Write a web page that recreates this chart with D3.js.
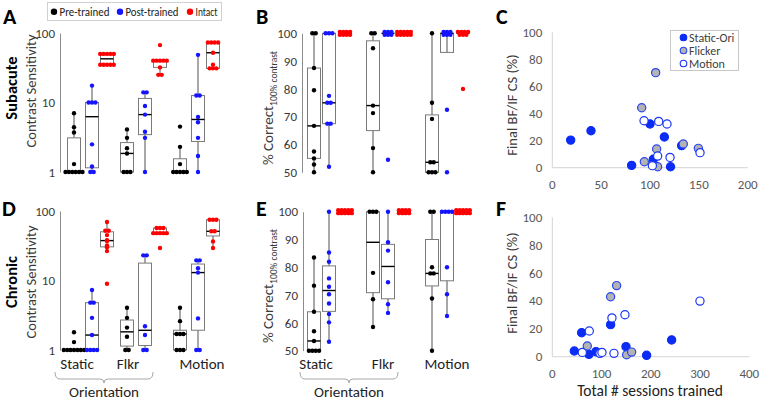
<!DOCTYPE html>
<html><head><meta charset="utf-8">
<script src="https://cdn.jsdelivr.net/npm/d3@7"></script>
<style>
body{margin:0;background:#fff}
text{font-family:Carlito,Calibri,Lato,"Open Sans",sans-serif}
</style>
</head><body>
<svg id="chart" width="760" height="400"></svg>
<script>
// ---------- categories ----------
const tasks = ["Static", "Flkr", "Motion"];
const conditions = ["Pre-trained", "Post-trained", "Intact"];
const condColors = ["#000000", "#1414ff", "#ff0000"];
const csTicks = [1, 10, 100];
const pctTicks = [50, 60, 70, 80, 90, 100];
const scatterYTicks = [0, 20, 40, 60, 80, 100];
const subacuteXTicks = [0, 50, 100, 150, 200];
const chronicXTicks = [0, 100, 200, 300, 400];
const scatterSeries = ["Static-Ori", "Flicker", "Motion"];

// ---------- Panel A: subacute contrast sensitivity (per task) ----------
const subacuteCSPre = [
  [7, 4.4, 3.7, 1.3, 1, 1, 1, 1, 1, 1],
  [4.1, 3.1, 2.2, 1.85, 1, 1, 1],
  [4.5, 2.3, 1.3, 1, 1, 1, 1, 1]
];
const subacuteCSPost = [
  [17.5, 10, 10, 10, 2.5, 1.2, 1, 1],
  [14, 14, 8.9, 6.7, 3.8, 3.1, 1],
  [48.5, 12.6, 12.6, 6.2, 5.2, 3.1, 1.7, 1]
];
const subacuteCSIntact = [
  [50, 50, 50, 50, 50, 35, 35, 35, 35, 35],
  [67, 40, 40, 40, 40, 40, 32, 25, 25],
  [73, 73, 73, 73, 52, 35, 31, 31, 31]
];

// ---------- Panel B: subacute % correct at 100% contrast ----------
const subacutePctPre = [
  [100, 100, 87.5, 79.5, 66.7, 57.5, 55, 52.8, 50],
  [100, 100, 94.6, 74, 71.3, 58.7, 50],
  [100, 75, 69.2, 53.6, 53.6, 50, 50, 50]
];
const subacutePctPost = [
  [100, 100, 100, 77.5, 75, 75, 67.5, 67.5, 52],
  [100, 100, 100, 100, 100, 100, 54.5],
  [100, 100, 100, 100, 100, 100, 72.5, 50]
];
const subacutePctIntact = [
  [100, 100, 100, 100, 100, 100, 100, 100],
  [100, 100, 100, 100, 100, 100, 100, 100, 100, 100],
  [100, 100, 100, 100, 100, 100, 100, 80]
];

// ---------- Panel C: subacute final BF/IF CS vs sessions ----------
const subacuteStaticX = [18.8, 39.6, 100, 114.7, 81.2, 103.4, 121, 132.4];
const subacuteStaticY = [20.4, 27.3, 32.3, 22.7, 1.7, 6.2, 0.7, 16.3];
const subacuteFlickerX = [105.8, 91.5, 106.8, 94.2, 134.1, 149.5, 107.8];
const subacuteFlickerY = [70.2, 44.3, 13.8, 4.4, 17.5, 14.3, 0.7];
const subacuteMotionX = [93.9, 108.9, 117.4, 107.8, 120.5, 151.2, 102.4];
const subacuteMotionY = [34.7, 34.2, 32.3, 8.6, 7.6, 11.1, 1.5];

// ---------- Panel D: chronic contrast sensitivity ----------
const chronicCSPre = [
  [1.8, 1.3, 1, 1, 1, 1, 1, 1, 1],
  [4.05, 2.9, 2.1, 1.55, 1, 1],
  [4.05, 2.6, 1.7, 1.7, 1.7, 1, 1, 1]
];
const chronicCSPost = [
  [7.3, 4.8, 4.8, 2.9, 1.64, 1, 1, 1, 1],
  [23, 23, 2.2, 1.64, 1, 1],
  [19.5, 19.5, 15, 13, 2.85, 1, 1]
];
const chronicCSIntact = [
  [69.5, 52, 52, 45, 38, 37, 32, 30, 26.5, 9],
  [57, 57, 57, 48, 48, 48, 48, 48, 29.4],
  [75, 75, 75, 51, 51, 36.5, 29.4]
];

// ---------- Panel E: chronic % correct ----------
const chronicPctPre = [
  [83.5, 73.4, 64, 57, 53.5, 50, 50, 50, 50],
  [100, 100, 100, 78, 68.5, 58.5],
  [100, 100, 80, 77.8, 77.8, 68.8, 50]
];
const chronicPctPost = [
  [100, 85.3, 82, 76, 73, 70.3, 67, 63.2, 60.2, 53.2],
  [100, 89, 86, 74.6, 66.7, 63.6],
  [100, 100, 100, 100, 80, 70.3, 62.5]
];
const chronicPctIntact = [
  [100, 100, 100, 100, 100, 100, 100, 100, 100, 100],
  [100, 100, 100, 100, 100, 100, 100, 100],
  [100, 100, 100, 100, 100, 100, 100, 100, 100, 100]
];

// ---------- Panel F: chronic final BF/IF CS vs sessions ----------
const chronicStaticX = [44.7, 59.6, 74.4, 88.7, 118.4, 149.6, 191.5, 242.3];
const chronicStaticY = [4.1, 17.2, 1.7, 3.6, 23, 7.2, 1, 12];
const chronicFlickerX = [118.4, 130.6, 71, 150.9, 161.1];
const chronicFlickerY = [43, 51, 7.7, 1.4, 3.3];
const chronicMotionX = [60.9, 75.1, 96.8, 100.8, 121.1, 125.2, 147.5, 299.8];
const chronicMotionY = [3.1, 18.4, 2.4, 3.1, 27.8, 2.4, 30.1, 39.9];

// =====================================================================
const svg = d3.select("#chart");
const GRAY_AXIS = "#8c8c8c";
const TXT = "#3a3a3a";

function panelLetter(x, y, s) {
  svg.append("text").attr("x", x).attr("y", y).text(s)
    .attr("font-size", 22).attr("font-weight", "bold").attr("fill", "#000");
}
function rotText(x, y, s, size, weight, color) {
  return svg.append("text").attr("transform", `translate(${x},${y}) rotate(-90)`)
    .attr("text-anchor", "middle").attr("font-size", size)
    .attr("font-weight", weight || "normal").attr("fill", color || TXT).text(s);
}

// ---- generic box + dot panel ----
function boxPanel(opt) {
  const g = svg.append("g");
  const y = opt.y, isLog = opt.log;
  const tf = isLog ? Math.log10 : (v => v);
  const ax = g.append("g").attr("transform", `translate(${opt.axisX},0)`)
    .call(d3.axisLeft(y).tickValues(opt.ticks).tickSize(0).tickPadding(5)
      .tickFormat(d3.format("d")));
  ax.select(".domain").attr("stroke", GRAY_AXIS).attr("stroke-width", 1);
  ax.selectAll("text").attr("font-size", 13).attr("fill", TXT)
    .attr("font-family", "Carlito,Calibri,Lato,sans-serif");

  const groups = [opt.pre, opt.post, opt.intact];
  const boxW = 13, spacing = 3.4, rowGap = 2.9, r = 2.2;
  groups.forEach((grp, ci) => {
    grp.forEach((vals0, ti) => {
      const vals = vals0.slice().sort(d3.ascending);
      const cx = opt.x(tasks[ti]) + opt.offsets[ci];
      const q1 = d3.quantile(vals, 0.25), med = d3.quantile(vals, 0.5), q3 = d3.quantile(vals, 0.75);
      const iqr = tf(q3) - tf(q1);
      const inside = vals.filter(v => tf(v) >= tf(q1) - 1.5 * iqr - 1e-9 && tf(v) <= tf(q3) + 1.5 * iqr + 1e-9);
      const lo = d3.min(inside), hi = d3.max(inside);
      g.append("line").attr("x1", cx).attr("x2", cx).attr("y1", y(hi)).attr("y2", y(q3))
        .attr("stroke", "#6e6e6e").attr("stroke-width", 1.2);
      g.append("line").attr("x1", cx).attr("x2", cx).attr("y1", y(q1)).attr("y2", y(lo))
        .attr("stroke", "#6e6e6e").attr("stroke-width", 1.2);
      g.append("rect").attr("x", cx - boxW / 2).attr("y", y(q3)).attr("width", boxW)
        .attr("height", Math.max(0, y(q1) - y(q3))).attr("fill", "none")
        .attr("stroke", "#7a7a7a").attr("stroke-width", 1);
      g.append("line").attr("x1", cx - boxW / 2).attr("x2", cx + boxW / 2)
        .attr("y1", y(med)).attr("y2", y(med)).attr("stroke", "#000").attr("stroke-width", 1.4);
      const bins = d3.groups(vals, v => v);
      bins.forEach(([v, arr]) => {
        const n = arr.length;
        const rows = Math.ceil(n / opt.maxPerRow);
        const per = Math.ceil(n / rows);
        for (let i = 0; i < n; i++) {
          const row = Math.floor(i / per);
          const k = Math.min(per, n - row * per);
          const j = i - row * per;
          g.append("circle")
            .attr("cx", cx + (j - (k - 1) / 2) * spacing)
            .attr("cy", y(v) + (row - (rows - 1) / 2) * rowGap)
            .attr("r", r).attr("fill", condColors[ci]);
        }
      });
    });
  });
}

// ---------- scales for dot panels ----------
const xCS = d3.scalePoint().domain(tasks).range([92, 198]);
const xPct = d3.scalePoint().domain(tasks).range([329, 447]);
const csOffsets = [-18, 0, 15];
const pctOffsets = [-15, 0, 16];

const yA = d3.scaleLog().domain([1, 100]).range([172, 33]);
const yD = d3.scaleLog().domain([1, 100]).range([350, 211]);
const yB = d3.scaleLinear().domain([50, 100]).range([172.3, 33.3]);
const yE = d3.scaleLinear().domain([50, 100]).range([350.7, 211.7]);

boxPanel({ y: yA, log: true, ticks: csTicks, axisX: 60, x: xCS, offsets: csOffsets,
  pre: subacuteCSPre, post: subacuteCSPost, intact: subacuteCSIntact, maxPerRow: 8 });
boxPanel({ y: yD, log: true, ticks: csTicks, axisX: 60, x: xCS, offsets: csOffsets,
  pre: chronicCSPre, post: chronicCSPost, intact: chronicCSIntact, maxPerRow: 8 });
boxPanel({ y: yB, log: false, ticks: pctTicks, axisX: 302, x: xPct, offsets: pctOffsets,
  pre: subacutePctPre, post: subacutePctPost, intact: subacutePctIntact, maxPerRow: 5 });
boxPanel({ y: yE, log: false, ticks: pctTicks, axisX: 303, x: xPct, offsets: pctOffsets,
  pre: chronicPctPre, post: chronicPctPost, intact: chronicPctIntact, maxPerRow: 5 });

// ---------- legend (panel A top) ----------
const lg = svg.append("g");
lg.append("rect").attr("x", 47.5).attr("y", 2.5).attr("width", 174).attr("height", 18)
  .attr("fill", "#fff").attr("stroke", "#d0d0d0");
const legX = [54, 120, 190];
const legW = [50, 53, 22];
conditions.forEach((c, i) => {
  lg.append("circle").attr("cx", legX[i]).attr("cy", 11.7).attr("r", 3.2).attr("fill", condColors[i]);
  lg.append("text").attr("x", legX[i] + 5.5).attr("y", 16).attr("font-size", 12.5)
    .attr("textLength", legW[i]).attr("lengthAdjust", "spacingAndGlyphs")
    .attr("fill", "#222").text(c);
});

// ---------- titles / labels for dot panels ----------
panelLetter(3, 24, "A");
panelLetter(256, 24, "B");
panelLetter(496, 24, "C");
panelLetter(2, 216, "D");
panelLetter(256, 216, "E");
panelLetter(496, 216, "F");

rotText(17, 88, "Subacute", 16.5, "bold", "#000");
rotText(36, 91, "Contrast Sensitivity", 14.5);
rotText(17, 282, "Chronic", 16.5, "bold", "#000");
rotText(36, 282, "Contrast Sensitivity", 14.5);

function pctTitle(x, cy) {
  const t = svg.append("text").attr("transform", `translate(${x},${cy}) rotate(-90)`)
    .attr("text-anchor", "middle").attr("fill", TXT);
  t.append("tspan").attr("font-size", 15).text("% Correct");
  t.append("tspan").attr("font-size", 9.5).attr("dy", 4).text("100% contrast");
}
pctTitle(273, 108);
pctTitle(273, 286);

function taskLabels(xs, nudges, braceL, braceR) {
  tasks.forEach((t, i) => {
    svg.append("text").attr("x", xs(t) + nudges[i]).attr("y", 369).attr("text-anchor", "middle")
      .attr("font-size", 15).attr("fill", "#222").text(t);
  });
  const mid = (braceL + braceR) / 2;
  svg.append("path").attr("fill", "none").attr("stroke", "#a8a8a8").attr("stroke-width", 1)
    .attr("d", `M${braceL},372 Q${braceL},379 ${braceL + 5},379 L${mid - 4},379 Q${mid},379 ${mid},383 Q${mid},379 ${mid + 4},379 L${braceR - 5},379 Q${braceR},379 ${braceR},372`);
  svg.append("text").attr("x", mid).attr("y", 397).attr("text-anchor", "middle")
    .attr("font-size", 15).attr("fill", "#222").text("Orientation");
}
taskLabels(xCS, [-15, -17, 4], 55, 153);
taskLabels(xPct, [-13, -5, 0], 300, 398);

// ---------- scatter panels ----------
const markerStyle = [
  { fill: "#0a2cf5", stroke: "#0a2cf5" },
  { fill: "#b3b3b3", stroke: "#2a45f0" },
  { fill: "#ffffff", stroke: "#1a35f5" }
];
function scatterPanel(opt) {
  const g = svg.append("g");
  const { x, y } = opt;
  g.append("line").attr("x1", x.range()[0]).attr("x2", x.range()[0]).attr("y1", y.range()[0]).attr("y2", y.range()[1])
    .attr("stroke", "#d4d4d4");
  g.append("line").attr("x1", x.range()[0]).attr("x2", x.range()[1]).attr("y1", y.range()[0]).attr("y2", y.range()[0])
    .attr("stroke", "#d4d4d4");
  opt.yTicks.forEach(v => g.append("text").attr("x", x.range()[0] - 10).attr("y", y(v) + 4.5)
    .attr("text-anchor", "end").attr("font-size", 13).attr("fill", "#595959").text(v));
  opt.xTicks.forEach(v => g.append("text").attr("x", x(v)).attr("y", y.range()[0] + 21)
    .attr("text-anchor", "middle").attr("font-size", 13).attr("fill", "#595959").text(v));
  opt.series.forEach((s, si) => {
    s.xs.forEach((xv, i) => {
      g.append("circle").attr("cx", x(xv)).attr("cy", y(s.ys[i])).attr("r", 4.1)
        .attr("fill", markerStyle[si].fill).attr("stroke", markerStyle[si].stroke).attr("stroke-width", 1.2);
    });
  });
}
const xC = d3.scaleLinear().domain([0, 200]).range([552.3, 747.7]);
const yC = d3.scaleLinear().domain([0, 100]).range([167.7, 32.3]);
const xF = d3.scaleLinear().domain([0, 400]).range([552.3, 749.3]);
const yF = d3.scaleLinear().domain([0, 100]).range([356.7, 217.3]);

scatterPanel({ x: xC, y: yC, yTicks: scatterYTicks, xTicks: subacuteXTicks, series: [
  { xs: subacuteStaticX, ys: subacuteStaticY },
  { xs: subacuteFlickerX, ys: subacuteFlickerY },
  { xs: subacuteMotionX, ys: subacuteMotionY }] });
scatterPanel({ x: xF, y: yF, yTicks: scatterYTicks, xTicks: chronicXTicks, series: [
  { xs: chronicStaticX, ys: chronicStaticY },
  { xs: chronicFlickerX, ys: chronicFlickerY },
  { xs: chronicMotionX, ys: chronicMotionY }] });

rotText(517, 105, "Final BF/IF CS (%)", 14.5);
rotText(517, 283, "Final BF/IF CS (%)", 14.5);
svg.append("text").attr("x", 650).attr("y", 396).attr("text-anchor", "middle")
  .attr("font-size", 15.5).attr("fill", "#222").text("Total # sessions trained");

const sl = svg.append("g");
sl.append("rect").attr("x", 670.5).attr("y", 30.5).attr("width", 68).attr("height", 40)
  .attr("fill", "#fff").attr("stroke", "#c8c8c8");
scatterSeries.forEach((s, i) => {
  const yy = 37.5 + i * 13;
  sl.append("circle").attr("cx", 683.5).attr("cy", yy).attr("r", 3.3)
    .attr("fill", markerStyle[i].fill).attr("stroke", markerStyle[i].stroke).attr("stroke-width", 1.1);
  sl.append("text").attr("x", 689).attr("y", yy + 4).attr("font-size", 12).attr("fill", "#404040").text(s);
});
</script>
</body></html>
